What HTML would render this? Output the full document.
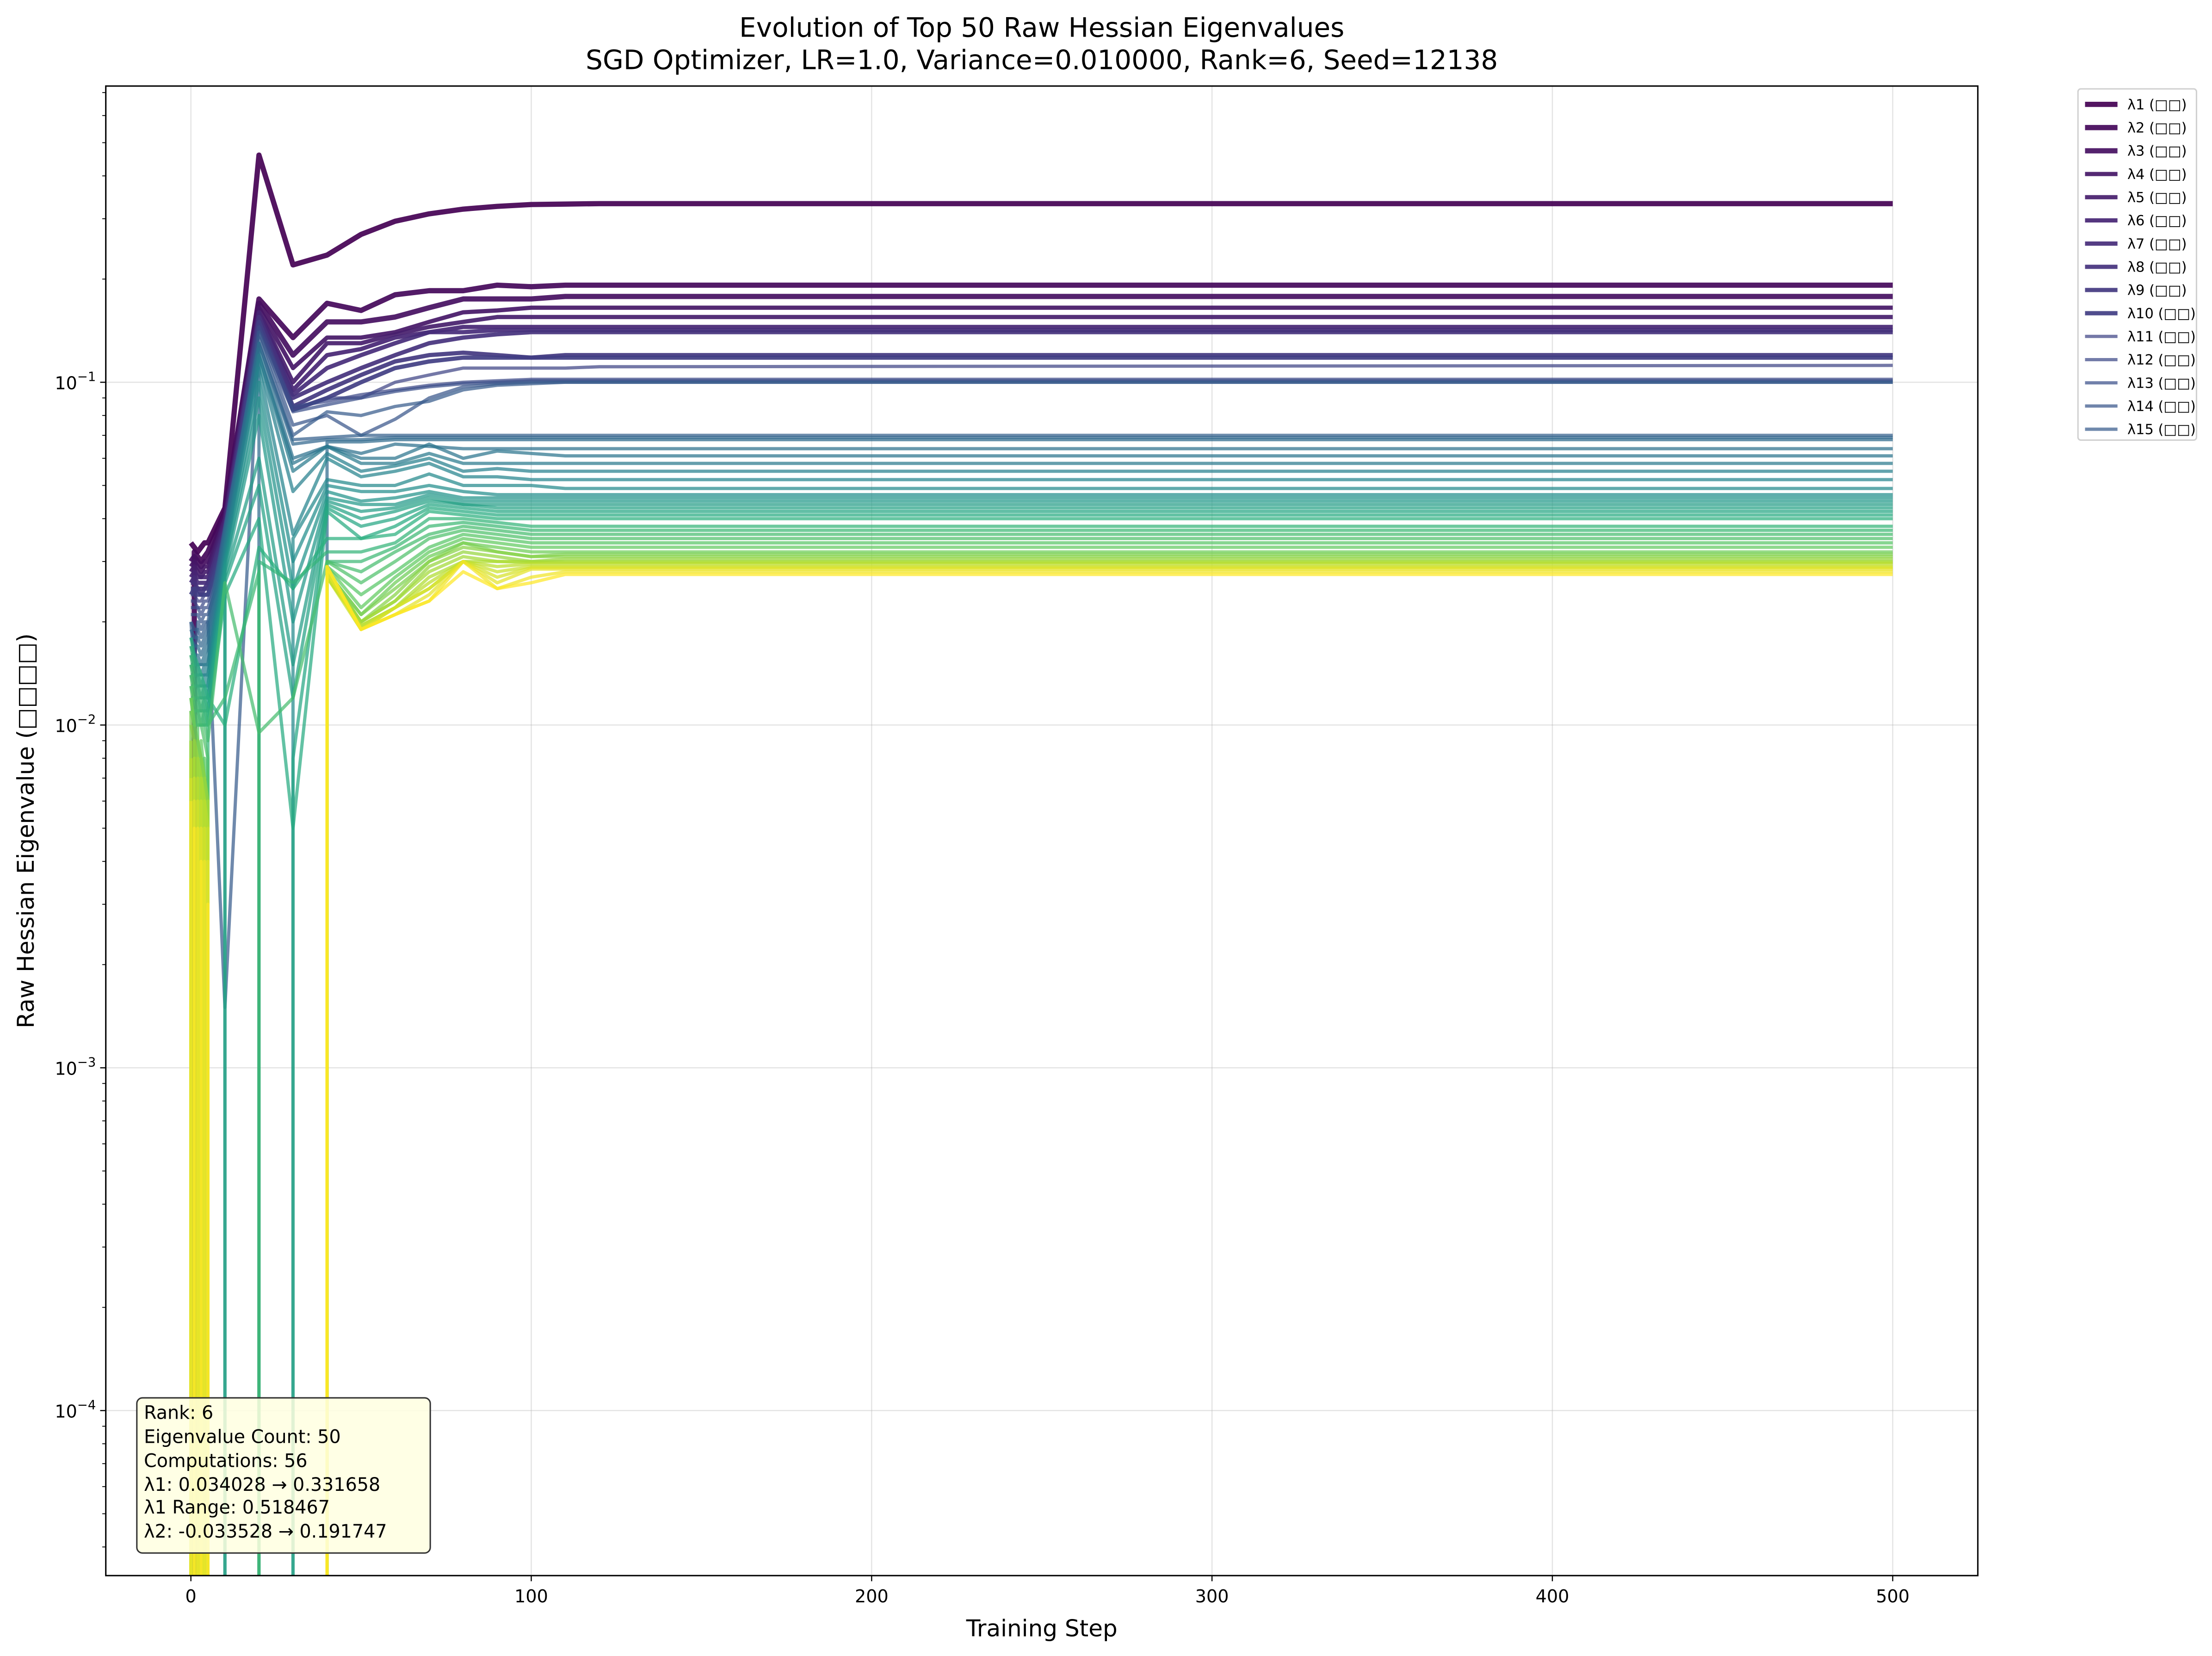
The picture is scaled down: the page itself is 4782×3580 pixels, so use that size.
<!DOCTYPE html>
<html><head><meta charset="utf-8"><style>
html,body{margin:0;padding:0;background:#fff;width:4782px;height:3580px;overflow:hidden}
svg{display:block;font-family:"DejaVu Sans","Liberation Sans",sans-serif;overflow:hidden}
</style></head><body>
<svg id="chart" width="4782" height="3580" viewBox="0 0 1568 1174" preserveAspectRatio="none" xmlns="http://www.w3.org/2000/svg">
<rect x="0" y="0" width="1568" height="1174" fill="#fff"/>
<defs><clipPath id="plotclip"><rect x="75" y="61" width="1327" height="1056"/></clipPath></defs>
<g id="grid"></g>
<g id="series" clip-path="url(#plotclip)"></g>
<rect x="75" y="61" width="1327" height="1056" fill="none" stroke="#000" stroke-width="1"/>
<g id="axes"></g>
<text x="738.5" y="26" text-anchor="middle" font-size="19">Evolution of Top 50 Raw Hessian Eigenvalues</text>
<text x="738.5" y="49" text-anchor="middle" font-size="19">SGD Optimizer, LR=1.0, Variance=0.010000, Rank=6, Seed=12138</text>
<text x="738.5" y="1160" text-anchor="middle" font-size="16.4">Training Step</text>
<text transform="translate(24,589) rotate(-90)" text-anchor="middle" font-size="16.4">Raw Hessian Eigenvalue (□□□□)</text>
<g>
<rect x="97" y="991" width="208" height="110" rx="4" fill="#ffffe0" fill-opacity="0.85" stroke="#333" stroke-width="1"/>
<g font-size="13" fill="#000">
<text x="102" y="1006">Rank: 6</text>
<text x="102" y="1023">Eigenvalue Count: 50</text>
<text x="102" y="1040">Computations: 56</text>
<text x="102" y="1057">λ1: 0.034028 → 0.331658</text>
<text x="102" y="1073">λ1 Range: 0.518467</text>
<text x="102" y="1090">λ2: -0.033528 → 0.191747</text>
</g></g>
<g id="legend">
<rect x="1473" y="63" width="84" height="249" rx="2" fill="#fff" stroke="#d0d0d0" stroke-width="1"/>
</g>
</svg>
<script>
const steps=[0,1,2,3,4,5,10,20,30,40,50,60,70,80,90,100,110,120,500];
const xTicks=[0,100,200,300,400,500];
const yTickExps=[-1,-2,-3,-4];
const s1=[0.034,0.033,0.032,0.033,0.034,0.034,0.043,0.46,0.22,0.235,0.27,0.295,0.31,0.32,0.326,0.33,0.331,0.332,0.332];
const s2=[-0.0335,0.032,0.031,0.03,0.031,0.032,0.042,0.175,0.135,0.17,0.162,0.18,0.185,0.185,0.192,0.19,0.192,0.192,0.192];
const s3=[0.03,0.031,0.03,0.029,0.03,0.03,0.041,0.17,0.12,0.15,0.15,0.155,0.165,0.175,0.175,0.175,0.178,0.178,0.178];
const s4=[0.029,0.03,0.029,0.028,0.029,0.029,0.04,0.165,0.11,0.135,0.135,0.14,0.15,0.16,0.162,0.165,0.165,0.165,0.165];
const s5=[0.028,0.029,0.028,0.027,0.028,0.028,0.04,0.16,0.1,0.13,0.13,0.138,0.145,0.15,0.155,0.155,0.155,0.155,0.155];
const s6=[0.027,0.028,0.027,0.027,0.027,0.027,0.039,0.16,0.095,0.12,0.125,0.135,0.14,0.145,0.145,0.145,0.145,0.145,0.145];
const s7=[0.026,0.027,0.026,0.026,0.026,0.026,0.038,0.155,0.092,0.11,0.12,0.13,0.14,0.14,0.142,0.142,0.142,0.142,0.142];
const s8=[0.026,0.026,0.025,0.025,0.025,0.026,0.037,0.155,0.09,0.1,0.11,0.12,0.13,0.135,0.138,0.14,0.14,0.14,0.14];
const s9=[0.025,0.025,0.025,0.024,0.025,0.025,0.036,0.15,0.085,0.095,0.105,0.115,0.12,0.122,0.12,0.118,0.12,0.12,0.12];
const s10=[0.024,0.025,0.024,0.024,0.024,0.024,0.035,0.15,0.083,0.09,0.1,0.11,0.115,0.118,0.118,0.118,0.118,0.118,0.118];
const s11=[0.024,0.024,0.023,0.023,0.024,0.024,0.034,0.145,0.083,0.09,0.09,0.1,0.105,0.11,0.11,0.11,0.11,0.111,0.112];
const s12=[0.023,0.023,0.022,0.022,0.023,0.023,0.033,0.145,0.085,0.088,0.092,0.095,0.098,0.1,0.101,0.102,0.102,0.102,0.102];
const s13=[0.022,0.022,0.022,0.021,0.022,0.022,0.032,0.14,0.082,0.086,0.09,0.094,0.097,0.099,0.1,0.101,0.101,0.101,0.101];
const s14=[0.021,0.021,0.021,0.02,0.021,0.021,0.03,0.14,0.075,0.08,0.07,0.078,0.09,0.097,0.099,0.1,0.1,0.1,0.1];
const s15=[0.02,0.015,0.02,0.019,0.02,0.02,0.0015,0.135,0.07,0.082,0.08,0.085,0.088,0.095,0.098,0.099,0.1,0.1,0.1];
const s16=[0.02,0.019,0.019,0.018,0.019,0.02,0.038,0.13,0.068,0.069,0.07,0.07,0.07,0.07,0.07,0.07,0.07,0.07,0.07];
const s17=[0.019,0.018,0.018,0.017,0.018,0.019,0.037,0.13,0.066,0.068,0.068,0.069,0.069,0.069,0.069,0.069,0.069,0.069,0.069];
const s18=[0.018,0.017,0.017,0.016,0.017,0.018,0.036,0.13,-0.01,0.067,0.067,0.068,0.068,0.068,0.068,0.068,0.068,0.068,0.068];
const s19=[0.017,0.016,0.016,0.015,0.016,0.017,0.035,0.125,0.06,0.065,0.062,0.066,0.065,0.064,0.064,0.064,0.064,0.064,0.064];
const s20=[0.016,0.016,0.015,0.015,0.015,0.016,0.034,0.12,0.058,0.065,0.06,0.06,0.066,0.06,0.063,0.062,0.061,0.061,0.061];
const s21=[0.016,0.015,0.015,0.014,0.015,0.015,0.033,0.12,0.055,0.065,0.058,0.058,0.062,0.058,0.058,0.058,0.058,0.058,0.058];
const s22=[0.015,0.015,0.014,0.014,0.014,0.015,0.032,0.115,0.048,0.062,0.055,0.057,0.06,0.055,0.056,0.055,0.055,0.055,0.055];
const s23=[0.015,0.014,0.014,0.013,0.014,0.014,0.031,0.11,0.036,0.06,0.053,0.055,0.058,0.053,0.053,0.052,0.052,0.052,0.052];
const s24=[0.014,0.014,0.013,0.013,0.013,0.014,0.03,-0.02,0.035,0.052,0.05,0.05,0.054,0.05,0.05,0.05,0.049,0.049,0.049];
const s25=[0.014,0.013,0.013,0.012,0.013,0.013,0.03,0.1,0.03,0.05,0.048,0.048,0.05,0.048,0.047,0.047,0.047,0.047,0.047];
const s26=[0.013,0.013,0.012,0.012,0.012,0.013,0.029,0.09,0.025,0.048,0.045,0.046,0.048,0.046,0.046,0.046,0.046,0.046,0.046];
const s27=[0.013,0.012,0.012,0.011,0.012,0.012,0.028,0.08,0.02,0.046,0.044,0.044,0.047,0.045,0.045,0.045,0.045,0.045,0.045];
const s28=[0.012,0.012,0.011,0.011,0.011,0.012,0.027,0.06,0.015,0.045,0.042,0.043,0.046,0.044,0.044,0.044,0.044,0.044,0.044];
const s29=[0.012,0.011,0.011,0.01,0.011,0.011,0.026,0.05,0.012,0.044,0.04,0.042,0.045,0.044,0.043,0.043,0.043,0.043,0.043];
const s30=[0.011,0.011,0.01,0.01,0.01,0.011,0.025,-0.02,0.008,0.043,0.038,0.04,0.044,0.043,0.042,0.042,0.042,0.042,0.042];
const s31=[0.011,0.01,0.01,0.01,0.01,0.01,0.024,0.04,0.005,0.042,0.035,0.038,0.043,0.042,0.041,0.041,0.041,0.041,0.041];
const s32=[0.018,0.016,0.015,0.014,0.013,0.012,0.01,0.033,0.025,0.035,0.035,0.036,0.042,0.041,0.04,0.04,0.04,0.04,0.04];
const s33=[0.017,0.015,0.014,0.013,0.012,0.011,-0.01,0.03,0.026,0.032,0.032,0.034,0.04,0.04,0.039,0.038,0.038,0.038,0.038];
const s34=[0.016,0.014,0.013,0.012,0.011,0.01,0.012,0.028,-0.02,0.03,0.03,0.033,0.038,0.039,0.038,0.037,0.037,0.037,0.037];
const s35=[0.015,0.013,0.012,0.011,0.01,0.009,0.026,0.0095,0.012,0.03,0.028,0.032,0.036,0.038,0.037,0.036,0.036,0.036,0.036];
const s36=[0.014,0.012,0.011,0.01,0.009,0.008,-0.01,-0.01,-0.01,0.03,0.026,0.03,0.035,0.037,0.036,0.035,0.035,0.035,0.035];
const s37=[0.013,0.011,0.01,-0.01,0.008,0.007,-0.01,-0.01,-0.01,0.029,0.024,0.028,0.033,0.036,0.035,0.034,0.034,0.034,0.034];
const s38=[0.012,0.01,-0.01,0.009,0.007,0.006,-0.01,-0.01,-0.01,0.029,0.022,0.027,0.032,0.035,0.034,0.033,0.033,0.033,0.033];
const s39=[0.012,0.01,0.009,0.008,-0.01,0.006,-0.01,-0.01,-0.01,0.028,0.021,0.026,0.031,0.034,0.033,0.032,0.032,0.032,0.032];
const s40=[0.011,-0.01,0.009,0.008,0.007,0.005,-0.01,-0.01,-0.01,0.028,0.021,0.025,0.03,0.034,0.032,0.031,0.0315,0.0315,0.0315];
const s41=[0.01,0.009,-0.01,0.008,0.007,-0.01,-0.01,-0.01,-0.01,0.028,0.02,0.024,0.03,0.033,0.032,0.031,0.031,0.031,0.031];
const s42=[-0.01,0.009,0.008,-0.01,0.007,0.006,-0.01,-0.01,-0.01,0.028,0.02,0.023,0.029,0.032,0.031,0.03,0.0305,0.0305,0.0305];
const s43=[0.009,-0.01,0.008,0.007,-0.01,0.006,-0.01,-0.01,-0.01,0.027,0.02,0.023,0.028,0.031,0.03,0.03,0.03,0.03,0.03];
const s44=[-0.01,0.008,-0.01,0.007,0.006,-0.01,-0.01,-0.01,-0.01,0.027,0.0195,0.022,0.027,0.03,0.03,0.0298,0.0298,0.0298,0.0298];
const s45=[0.008,-0.01,0.007,-0.01,0.006,0.005,-0.01,-0.01,-0.01,0.027,0.0195,0.022,0.026,0.03,0.029,0.0295,0.0295,0.0295,0.0295];
const s46=[-0.01,0.007,-0.01,0.006,-0.01,0.005,-0.01,-0.01,-0.01,0.027,0.019,0.022,0.025,0.03,0.028,0.029,0.029,0.029,0.029];
const s47=[0.007,-0.01,0.006,-0.01,0.005,-0.01,-0.01,-0.01,-0.01,0.028,0.019,0.022,0.025,0.03,0.027,0.0288,0.0288,0.0288,0.0288];
const s48=[-0.01,0.006,-0.01,0.005,-0.01,0.004,-0.01,-0.01,-0.01,0.028,0.019,0.021,0.024,0.03,0.026,0.0285,0.0285,0.0285,0.0285];
const s49=[0.006,-0.01,0.005,-0.01,0.004,-0.01,-0.01,-0.01,-0.01,0.029,0.019,0.021,0.023,0.03,0.025,0.027,0.028,0.028,0.028];
const s50=[-0.01,0.005,-0.01,0.004,-0.01,0.003,-0.01,-0.01,-0.01,0.029,0.019,0.021,0.023,0.028,0.025,0.026,0.0275,0.0275,0.0275];
const seriesList=[s1,s2,s3,s4,s5,s6,s7,s8,s9,s10,s11,s12,s13,s14,s15,s16,s17,s18,s19,s20,s21,s22,s23,s24,s25,s26,s27,s28,s29,s30,s31,s32,s33,s34,s35,s36,s37,s38,s39,s40,s41,s42,s43,s44,s45,s46,s47,s48,s49,s50];

const NS="http://www.w3.org/2000/svg";
const X0=75,X1=1402,Y0=61,Y1=1117,XMIN=-25,XMAX=525,YFLOOR=1170;
function xs(v){return X0+(v-XMIN)/(XMAX-XMIN)*(X1-X0);}
function ys(v){return Math.min(YFLOOR,271+(-1-Math.log10(v))*243);}
function linePoints(vals){
  const out=[];const n=vals.length;
  for(let k=0;k<n;k++){
    const v=vals[k];
    if(v>0){out.push([xs(steps[k]),ys(v)]);continue;}
    const prevPos=k>0&&vals[k-1]>0, nextPos=k<n-1&&vals[k+1]>0;
    if(prevPos)out.push([xs(steps[k-1]),YFLOOR]);
    if(nextPos)out.push([xs(steps[k+1]),YFLOOR]);
    if(!prevPos&&!nextPos)out.push([xs(steps[k]),YFLOOR]);
  }
  return out.map(p=>p[0].toFixed(2)+','+p[1].toFixed(2)).join(' ');
}
const vir=[[68,1,84],[71,45,123],[59,82,139],[44,114,142],[33,145,140],[40,174,128],[94,201,98],[173,220,48],[253,231,37]];
function viridis(t){const p=t*8,i=Math.min(7,Math.floor(p)),f=p-i;const a=vir[i],b=vir[i+1];
return 'rgb('+a.map((c,k)=>Math.round(c+(b[k]-c)*f)).join(',')+')';}
function mk(tag,attrs,parent){const e=document.createElementNS(NS,tag);for(const k in attrs)e.setAttribute(k,attrs[k]);parent.appendChild(e);return e;}

const grid=document.getElementById('grid'),axes=document.getElementById('axes');
xTicks.forEach(t=>{
  const x=xs(t);
  const gl=mk('line',{x1:x,x2:x,y1:Y0,y2:Y1,stroke:'#b0b0b0','stroke-opacity':0.35,'stroke-width':0.8},grid);
  
  
  const tk=mk('line',{x1:x,x2:x,y1:Y1,y2:Y1+4,stroke:'#000','stroke-width':0.8},axes);
  
  
  const lb=mk('text',{x:x,y:Y1+19,'text-anchor':'middle','font-size':12.5},axes);
  lb.textContent=String(t);
  
  
});
yTickExps.forEach(e=>{
  const y=ys(Math.pow(10,e));
  const gl=mk('line',{x1:X0,x2:X1,y1:y,y2:y,stroke:'#b0b0b0','stroke-opacity':0.35,'stroke-width':0.8},grid);
  
  
  const tk=mk('line',{x1:X0-4,x2:X0,y1:y,y2:y,stroke:'#000','stroke-width':0.8},axes);
  
  
  const lb=mk('text',{x:X0-7,y:y+5,'text-anchor':'end','font-size':12.5},axes);
  
  
  lb.textContent='10';
  const sp=mk('tspan',{dy:-6,'font-size':9},lb);sp.textContent='−'+(-e);
});
for(let e=-5;e<0;e++){for(let m=2;m<10;m++){const v=m*Math.pow(10,e);const y=ys(v);
  if(y<Y0||y>Y1)continue;
  const tk=mk('line',{x1:X0-2.5,x2:X0,y1:y,y2:y,stroke:'#000','stroke-width':0.6},axes);
  
  
}}

const sg=document.getElementById('series'),lg=document.getElementById('legend');
seriesList.forEach((vals,i)=>{
  const col=viridis(i/49);
  const lw=i<3?3.7:(i<10?3.0:2.3);
  const op=i<10?0.92:0.72;
  const pl=mk('polyline',{points:linePoints(vals),fill:'none',stroke:col,'stroke-width':lw,'stroke-opacity':op,'stroke-linejoin':'round'},sg);
  
  
  if(i<15){
    const y=74+i*16.45;
    const ln=mk('line',{x1:1478,x2:1501,y1:y,y2:y,stroke:col,'stroke-width':lw,'stroke-opacity':op},lg);
    
    
    const tx=mk('text',{x:1508,y:y+3.5,'font-size':10},lg);
    tx.textContent='λ'+(i+1)+' (□□)';
    
    
  }
});
</script>
</body></html>
